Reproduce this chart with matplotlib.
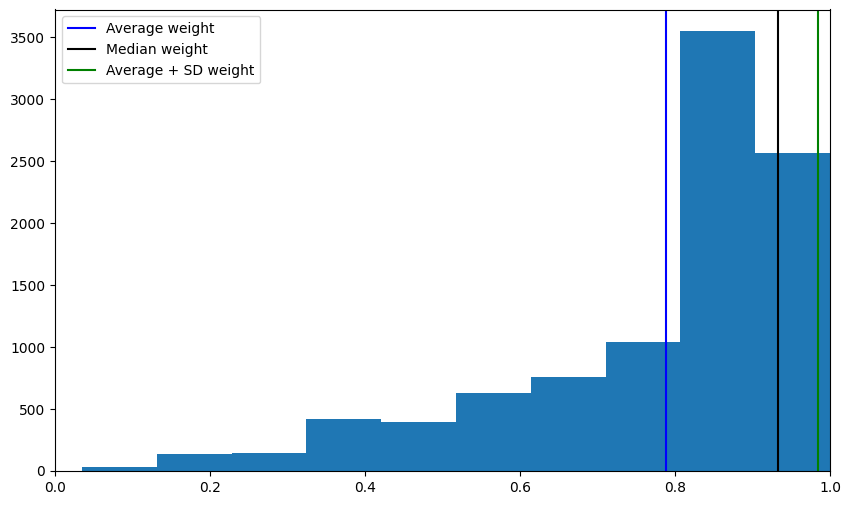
import numpy as np
import matplotlib
matplotlib.use("Agg")
import matplotlib.pyplot as plt

bin_start = 0.0348
bin_end = 1.0
counts = [30, 137, 147, 418, 394, 630, 756, 1038, 3545, 2566]
avg_weight = 0.788
median_weight = 0.933
avg_sd_weight = 0.985

edges = np.linspace(bin_start, bin_end, len(counts) + 1)

fig = plt.figure(figsize=(8.5, 5.05), dpi=100)
ax = fig.add_axes([55/850, 1 - 471/505, 775/850, (471 - 9.5)/505])
ax.hist(edges[:-1], bins=edges, weights=counts, color='#1f77b4')
ax.axvline(avg_weight, color='blue', label='Average weight')
ax.axvline(median_weight, color='black', label='Median weight')
ax.axvline(avg_sd_weight, color='green', label='Average + SD weight')
ax.set_xlim(0, 1)
ax.legend(loc='upper left')
fig.savefig('out.png', dpi=100)
